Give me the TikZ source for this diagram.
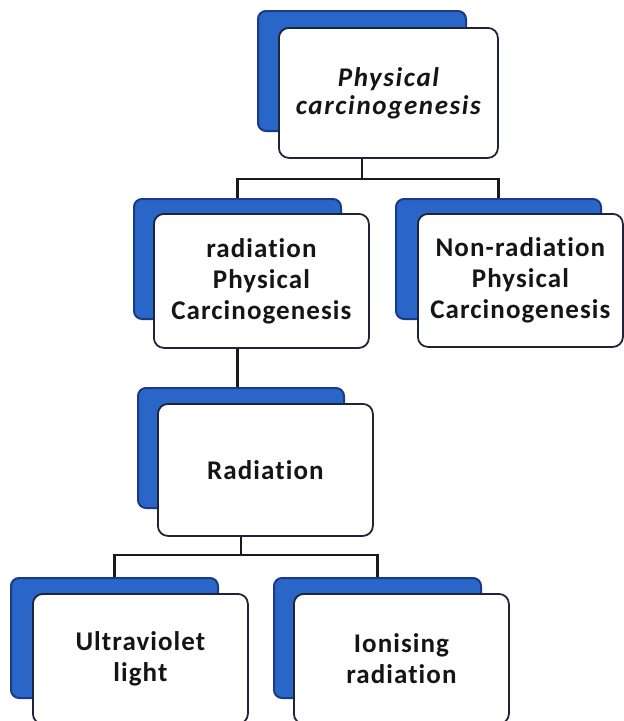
\documentclass[tikz,border=0pt]{standalone}
\usepackage{fontspec}
\setmainfont[Ligatures=NoCommon]{Carlito}
\definecolor{backblue}{HTML}{2A66C8}
\definecolor{backedge}{HTML}{1A3A86}
\definecolor{frontedge}{HTML}{1E2536}
\definecolor{linecol}{HTML}{1A1A1A}
\definecolor{textcol}{HTML}{151515}
\newfontfamily\boxfont[Ligatures=NoCommon,LetterSpace=4]{Carlito}
\newfontfamily\topfont[Ligatures=NoCommon,LetterSpace=6]{Carlito}
\begin{document}
\begin{tikzpicture}[x=1pt,y=-1pt,
  back/.style={draw=backedge, line width=2pt, fill=backblue, rounded corners=8pt,
    minimum width=207pt, minimum height=120pt, anchor=north west, inner sep=0pt},
  front/.style={draw=frontedge, line width=1.8pt, fill=white, rounded corners=10pt,
    minimum width=215pt, minimum height=131pt, anchor=north west, align=center,
    font=\boxfont\fontsize{27}{31}\selectfont\bfseries, inner sep=0pt, text=textcol},
  conn/.style={draw=linecol, line width=2.2pt}]
\useasboundingbox (0,0) rectangle (624,721);
\clip (0,0) rectangle (624,721);
% top
\node[back, minimum width=208pt] (topb) at (257,10) {};
\node[front, minimum width=219pt, minimum height=130pt,
  font=\topfont\fontsize{27}{28}\selectfont\bfseries\itshape] (top) at (278,27) {Physical\\carcinogenesis};
% middle row
\node[back] (mlb) at (133,198) {};
\node[front, minimum height=134pt] (ml) at (153,213) {radiation\\Physical\\Carcinogenesis};
\node[back, minimum width=205pt] (mrb) at (395,198) {};
\node[front, minimum width=205pt, minimum height=133pt] (mr) at (417,213) {Non-radiation\\Physical\\Carcinogenesis};
% radiation
\node[back, minimum width=206pt] (radb) at (137,387) {};
\node[front, minimum height=132pt] (rad) at (157,403) {Radiation};
% bottom row
\node[back] (blb) at (10,577) {};
\node[front, minimum height=130pt] (bl) at (32,593) {Ultraviolet\\light};
\node[back] (brb) at (273,577) {};
\node[front, minimum height=130pt] (br) at (293,593) {Ionising\\radiation};
% connectors
\draw[conn] (topb.center |- top.south) -- ++(0,20) coordinate (j1);
\draw[conn] (mlb.north) |- (j1) -| (mrb.north);
\draw[conn] (mlb.center |- ml.south) -- (mlb.center |- radb.north);
\draw[conn] (radb.center |- rad.south) -- ++(0,18) coordinate (j2);
\draw[conn] (blb.north) |- (j2) -| (brb.north);
\end{tikzpicture}
\end{document}
